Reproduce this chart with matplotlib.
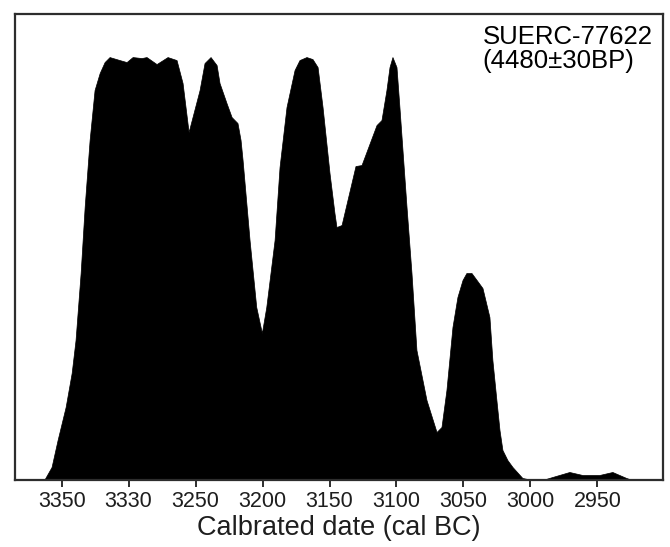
import numpy as np
import matplotlib
matplotlib.use("Agg")
from matplotlib import pyplot as plt

# calibrated years (cal BC) and relative probability
years = [3363, 3357.5, 3353, 3347, 3342.5, 3339.6, 3335.8, 3332.8, 3329.1, 3325.4,
         3321.6, 3317.9, 3314.2, 3306.7, 3301.5, 3297.0, 3290.3, 3286.6, 3279.1,
         3270.9, 3264.2, 3259.7, 3255.2, 3247.0, 3243.3, 3238.8, 3234.3, 3232.1,
         3226.9, 3223.1, 3218.7, 3216.4, 3214.9, 3209.7, 3204.7, 3200.5, 3197.2,
         3191.0, 3187.3, 3182.1, 3176.1, 3172.4, 3167.2, 3162.7, 3158.9, 3155.2,
         3150.0, 3146.3, 3144.8, 3141.0, 3130.6, 3126.1, 3114.9, 3111.2, 3107.5,
         3105.2, 3103.0, 3100.0, 3097.8, 3092.5, 3088.8, 3085.1, 3077.6, 3070.1,
         3066.4, 3062.7, 3058.2, 3054.5, 3050.7, 3047.8, 3044.0, 3039.6, 3035.8,
         3030.6, 3028.4, 3025.4, 3023.1, 3020.9, 3017.2, 3013.4, 3006.0, 2998.5,
         2991.0, 2983.6, 2970.9, 2961.2, 2948.5, 2938.8, 2928.4, 2924.0]
prob = [0, 13, 40, 73, 107, 140, 207, 273, 340, 390,
        407, 418, 423, 420, 418, 423, 422, 423, 416,
        423, 420, 397, 348, 390, 417, 423, 415, 397,
        377, 363, 357, 340, 320, 240, 173, 147, 173,
        240, 313, 373, 410, 420, 423, 421, 413, 373,
        307, 267, 253, 255, 314, 315, 355, 360, 390,
        413, 423, 413, 373, 273, 207, 130, 80, 48,
        53, 90, 153, 183, 200, 207, 207, 199, 192,
        163, 120, 80, 50, 30, 20, 13, 2, 0,
        0, 3, 8, 5, 5, 8, 2, 0]
prob = np.array(prob) / 423.0

tick_pos = [3350, 3300, 3250, 3200, 3150, 3100, 3050, 3000, 2950]
tick_lab = ["3350", "3330", "3250", "3200", "3150", "3100", "3050", "3000", "2950"]

plt.rcParams['font.family'] = ['Liberation Sans', 'DejaVu Sans']
edge = '#2d2d2d'

fig = plt.figure(figsize=(6.7, 5.47), dpi=100)
ax = fig.add_axes([0.022, 0.1225, 0.9676, 0.8528])
ax.fill_between(years, prob, 0, color='black', linewidth=0.5, edgecolor='black')

ax.set_xlim(3385, 2901)
ax.set_ylim(0, 1.103)
ax.set_yticks([])
ax.set_xticks(tick_pos)
ax.set_xticklabels(tick_lab)
ax.tick_params(axis='x', direction='out', length=5, width=1.4, color=edge,
               labelsize=15.5, labelcolor='#1e1e1e', pad=3)
for s in ax.spines.values():
    s.set_color(edge)
    s.set_linewidth(1.6)
ax.set_xlabel("Calbrated date (cal BC)", fontsize=19.5, color='#1e1e1e', labelpad=2)

ax.text(0.722, 0.975, "SUERC-77622\n(4480\u00b130BP)", transform=ax.transAxes,
        ha='left', va='top', fontsize=18.5, color='black', linespacing=1.0)

fig.savefig('out.png', dpi=100)
